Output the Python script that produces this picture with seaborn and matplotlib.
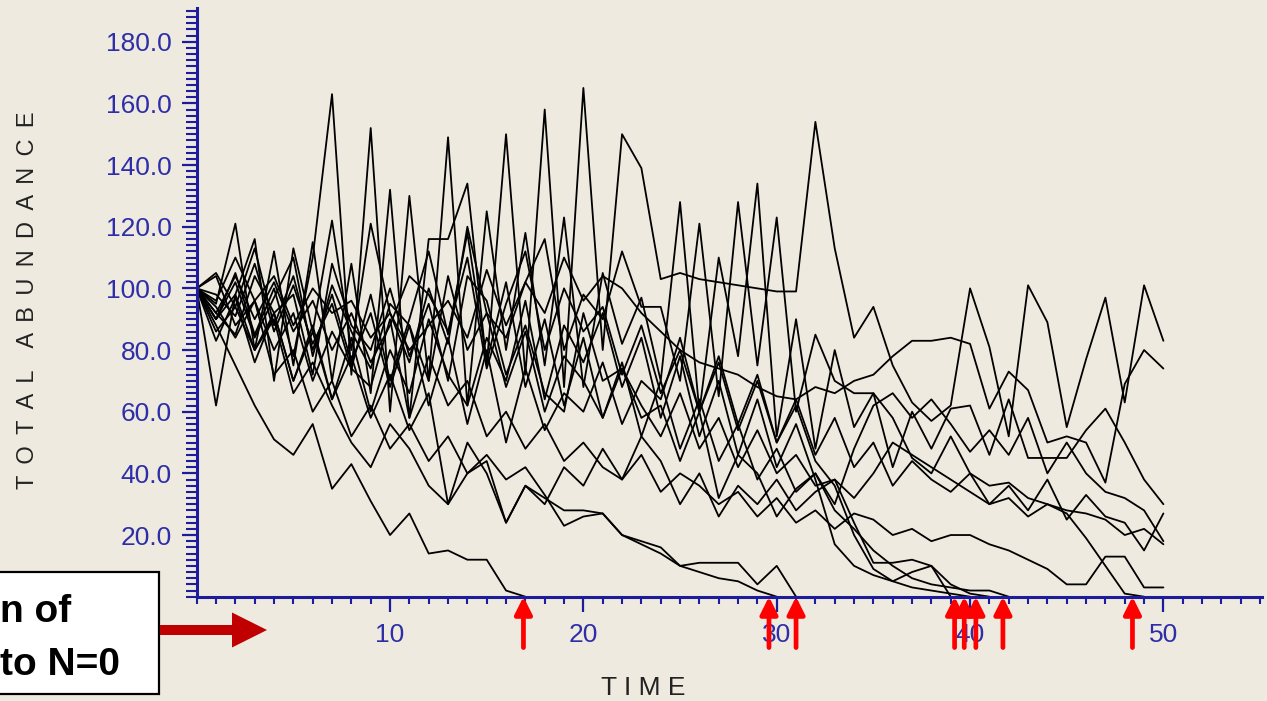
import numpy as np
import pandas as pd
import matplotlib
matplotlib.use("Agg")
import matplotlib.pyplot as plt
import seaborn as sns
from matplotlib.ticker import MultipleLocator, FixedLocator, FuncFormatter
from matplotlib.patches import Rectangle, FancyArrow

# ---------------- data ----------------
# surviving runs, t = 0..50
run_s1 = [100, 90, 105, 85, 100, 78, 110, 163, 72, 152,
          60, 130, 70, 149, 62, 125, 80, 118, 75, 123,
          68, 105, 82, 97, 70, 128, 60, 110, 78, 134,
          52, 90, 48, 80, 55, 66, 42, 60, 48, 61,
          62, 46, 64, 45, 45, 45, 54, 61, 50, 38, 30]
run_s2 = [100, 95, 121, 80, 112, 75, 115, 70, 108, 66,
          132, 58, 116, 116, 134, 75, 150, 72, 158, 68,
          165, 80, 150, 139, 103, 105, 103, 102, 101, 100,
          99, 99, 154, 113, 84, 94, 75, 63, 57, 62,
          100, 81, 52, 101, 89, 55, 77, 97, 63, 101, 83]
run_s3 = [100, 62, 98, 116, 70, 113, 86, 122, 80, 121,
          92, 76, 100, 82, 120, 92, 84, 102, 116, 80,
          98, 90, 112, 94, 94, 70, 121, 65, 128, 75,
          123, 60, 85, 70, 66, 66, 58, 45, 40, 52,
          40, 30, 36, 28, 38, 25, 33, 26, 24, 15, 27]
run_s4 = [100, 92, 85, 104, 92, 98, 72, 108, 88, 80,
          100, 78, 95, 70, 104, 96, 72, 88, 66, 60,
          92, 70, 74, 58, 62, 44, 60, 32, 46, 40,
          26, 35, 40, 30, 48, 62, 66, 58, 64, 56,
          47, 54, 46, 58, 40, 50, 40, 34, 32, 28, 18]
run_s5 = [100, 86, 94, 80, 90, 66, 76, 62, 50, 42,
          56, 48, 36, 30, 40, 44, 24, 36, 30, 42,
          36, 48, 38, 52, 44, 30, 40, 26, 36, 30,
          38, 28, 34, 38, 32, 40, 50, 46, 42, 38,
          34, 30, 32, 26, 30, 28, 27, 25, 20, 22, 17]
run_s6 = [100, 104, 88, 96, 80, 92, 70, 86, 74, 68,
          90, 58, 78, 62, 70, 52, 60, 48, 56, 44,
          50, 42, 38, 46, 34, 40, 36, 30, 34, 26,
          32, 24, 28, 22, 27, 25, 20, 22, 18, 20,
          20, 17, 15, 12, 9, 4, 4, 13, 13, 3, 3]
run_s7 = [100, 96, 110, 96, 104, 88, 100, 92, 96, 84,
          92, 80, 88, 96, 84, 106, 88, 102, 92, 110,
          96, 104, 100, 92, 86, 80, 76, 74, 72, 68,
          65, 64, 68, 66, 70, 72, 78, 83, 83, 84,
          82, 61, 73, 67, 50, 52, 50, 37, 69, 80, 74]

# runs that reach N = 0
run_e1 = [100, 88, 75, 62, 51, 46, 56, 35, 43, 31,
          20, 27, 14, 15, 12, 12, 2, 0]
run_e2 = [100, 94, 84, 96, 72, 80, 60, 70, 52, 62,
          48, 56, 44, 52, 40, 46, 38, 42, 33, 23,
          26, 27, 20, 17, 14, 10, 8, 6, 5, 2, 0]
run_e3 = [100, 90, 98, 80, 92, 70, 86, 64, 78, 58,
          72, 54, 66, 30, 50, 40, 24, 36, 32, 28,
          28, 27, 20, 18, 16, 10, 11, 11, 11, 4, 10, 0]
run_e4 = [100, 90, 102, 84, 97, 110, 78, 101, 86, 74,
          95, 88, 70, 104, 80, 92, 68, 86, 60, 78,
          70, 58, 74, 62, 52, 66, 48, 58, 42, 54,
          40, 46, 36, 38, 24, 11, 11, 12, 10, 0]
run_e5 = [100, 92, 104, 90, 102, 86, 96, 80, 92, 76,
          88, 104, 98, 86, 110, 74, 95, 112, 80, 100,
          86, 94, 72, 88, 66, 80, 60, 76, 54, 70,
          50, 62, 44, 36, 20, 9, 5, 3, 2, 1, 0]
run_e6 = [100, 83, 97, 76, 92, 70, 88, 64, 84, 60,
          80, 66, 90, 72, 62, 84, 70, 96, 64, 88,
          76, 92, 68, 84, 58, 78, 52, 70, 46, 64,
          42, 56, 38, 17, 10, 7, 5, 8, 10, 4, 1, 0]
run_e7 = [100, 98, 91, 108, 86, 101, 82, 95, 74, 98,
          70, 90, 112, 85, 118, 76, 102, 68, 90, 62,
          84, 58, 76, 52, 70, 48, 64, 44, 56, 38,
          48, 34, 40, 28, 22, 15, 10, 6, 4, 3, 2, 2, 0]
run_e8 = [100, 105, 94, 113, 88, 104, 80, 98, 76, 92,
          68, 88, 62, 84, 56, 80, 50, 74, 54, 66,
          60, 76, 56, 70, 64, 84, 60, 78, 56, 72,
          50, 64, 46, 58, 42, 50, 36, 44, 38, 34,
          40, 36, 37, 32, 30, 27, 19, 10, 1, 0]

extinction_times = [16.9, 29.6, 31.0, 39.2, 39.7, 40.3, 41.7, 48.4]
y_tick_values = [20, 40, 60, 80, 100, 120, 140, 160, 180]
x_tick_values = [10, 20, 30, 40, 50]
x_label = "T I M E"
y_label = " \u2009".join("TOTAL") + " \u2009 \u2009" + " \u2009".join("ABUNDANCE")
box_lines = ["n of", "to N=0"]

runs = {"s1": run_s1, "s2": run_s2, "s3": run_s3, "s4": run_s4, "s5": run_s5,
        "s6": run_s6, "s7": run_s7, "e1": run_e1, "e2": run_e2, "e3": run_e3,
        "e4": run_e4, "e5": run_e5, "e6": run_e6, "e7": run_e7, "e8": run_e8}
rows = []
for name, vals in runs.items():
    for t, v in enumerate(vals):
        rows.append((name, t, v))
df = pd.DataFrame(rows, columns=["run", "time", "abundance"])

# ---------------- style ----------------
BG = "#EEEADF"
NAVY = "#1c1c9c"
TICKTXT = "#2e2ea8"
sns.set_theme(style="ticks")
plt.rcParams["font.family"] = ["Liberation Sans", "DejaVu Sans"]

W, H = 1267, 701
fig = plt.figure(figsize=(W / 100, H / 100), dpi=100, facecolor=BG)
ax = fig.add_axes([196.7 / W, 104.3 / H, 1065.3 / W, 588.9 / H])
ax.set_facecolor(BG)

sns.lineplot(data=df, x="time", y="abundance", units="run", estimator=None,
             color="black", linewidth=1.3, ax=ax, legend=False)

ax.set_xlim(0, 55.1)
ax.set_ylim(0, 191)

for s in ("top", "right"):
    ax.spines[s].set_visible(False)
for s in ("left", "bottom"):
    ax.spines[s].set_color(NAVY)
    ax.spines[s].set_linewidth(2.2)

ax.yaxis.set_major_locator(FixedLocator(y_tick_values))
ax.yaxis.set_minor_locator(MultipleLocator(2))
ax.xaxis.set_major_locator(FixedLocator(x_tick_values))
ax.xaxis.set_minor_locator(MultipleLocator(1))
ax.yaxis.set_major_formatter(FuncFormatter(lambda v, p: f"{v:.1f}"))
ax.xaxis.set_major_formatter(FuncFormatter(lambda v, p: f"{v:.0f}"))

ax.tick_params(axis="both", which="both", direction="out", color=NAVY,
               labelcolor=TICKTXT, labelsize=19, bottom=True, left=True,
               top=False, right=False)
ax.tick_params(axis="y", which="major", length=11, width=1.6, pad=7)
ax.tick_params(axis="y", which="minor", length=8, width=1.5)
ax.tick_params(axis="x", which="major", length=11, width=1.6, pad=8)
ax.tick_params(axis="x", which="minor", length=5, width=1.5)

ax.set_xlabel(x_label, fontsize=19, color="#222222")
ax.set_ylabel(y_label, fontsize=17, color="#222222")
ax.xaxis.set_label_coords((643 - 196.7) / 1065.3, -(688 - 596.7) / 588.9)
ax.xaxis.label.set_va("center")
ax.yaxis.set_label_coords((28 - 196.7) / 1065.3, (596.7 - 300) / 588.9)
ax.yaxis.label.set_va("center")

# red arrows marking extinction times
for t in extinction_times:
    ax.annotate("", xy=(t, 0), xytext=(t, -16.5), xycoords="data",
                arrowprops=dict(arrowstyle="-|>", color="#FF0000", lw=3.4,
                                mutation_scale=26, shrinkA=0, shrinkB=0),
                annotation_clip=False)

# annotation box with dark red arrow (figure inches)
box = Rectangle((-0.05, (H - 694) / 100), (159 + 5) / 100, (694 - 571.7) / 100,
                transform=fig.dpi_scale_trans, facecolor="white",
                edgecolor="black", linewidth=1.6)
fig.add_artist(box)
fig.text(0.0, (H - 622) / 100, box_lines[0], transform=fig.dpi_scale_trans,
         fontsize=28, fontweight="bold", color="black", ha="left", va="baseline")
fig.text(0.0, (H - 675) / 100, box_lines[1], transform=fig.dpi_scale_trans,
         fontsize=28, fontweight="bold", color="black", ha="left", va="baseline")
arr = FancyArrow(1.60, (H - 630) / 100, 1.07, 0, width=0.10, head_width=0.35,
                 head_length=0.35, length_includes_head=True,
                 transform=fig.dpi_scale_trans, color="#C00000", linewidth=0)
fig.add_artist(arr)

fig.savefig("out.png", dpi=100, facecolor=BG)
